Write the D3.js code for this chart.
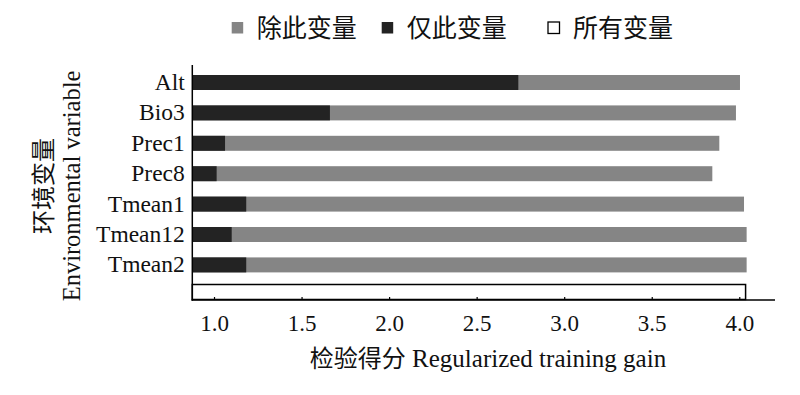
<!DOCTYPE html>
<html>
<head>
<meta charset="utf-8">
<script src="https://cdn.jsdelivr.net/npm/d3@7"></script>
<style>
  body { margin: 0; background: #fff; }
  svg { display: block; }
</style>
</head>
<body>
<svg id="chart" width="800" height="395"></svg>
<script>
// ---- data ----
const variables = ["Alt", "Bio3", "Prec1", "Prec8", "Tmean1", "Tmean12", "Tmean2"];
const withoutVar = [4.004, 3.981, 3.886, 3.846, 4.027, 4.042, 4.042]; // 除此变量
const onlyVar    = [2.738, 1.662, 1.063, 1.015, 1.184, 1.101, 1.184]; // 仅此变量
const allVars    = [4.036];                                           // 所有变量
const xTicks     = [1.0, 1.5, 2.0, 2.5, 3.0, 3.5, 4.0];
const legendLabels = ["除此变量", "仅此变量", "所有变量"];
const legendColors = ["#858585", "#232323", "#ffffff"];

const LAT = '"Liberation Serif", "Times New Roman", serif';
const CJK = '"Noto Sans CJK SC", sans-serif';

const svg = d3.select("#chart");
const plotLeft = 192.3, plotRight = 775, plotTop = 65, axisY = 300;

const x = d3.scaleLinear().domain([0.876, 4.204]).range([plotLeft, plotRight]);
const y = d3.scaleBand().domain(variables).range([67.4, 280]).paddingInner(0.507).paddingOuter(0.25);

const rows = variables.map((v, i) => ({ v, without: withoutVar[i], only: onlyVar[i] }));

// gray bars (without variable)
svg.append("g").selectAll("rect").data(rows).join("rect")
  .attr("x", x(x.domain()[0]))
  .attr("y", d => y(d.v))
  .attr("width", d => x(d.without) - x(x.domain()[0]))
  .attr("height", y.bandwidth())
  .attr("fill", legendColors[0]);

// black bars (only variable)
svg.append("g").selectAll("rect").data(rows).join("rect")
  .attr("x", x(x.domain()[0]))
  .attr("y", d => y(d.v))
  .attr("width", d => x(d.only) - x(x.domain()[0]))
  .attr("height", y.bandwidth())
  .attr("fill", legendColors[1]);

// white bar (all variables)
svg.append("g").selectAll("rect").data(allVars).join("rect")
  .attr("x", x(x.domain()[0]))
  .attr("y", axisY - 15.5)
  .attr("width", d => x(d) - x(x.domain()[0]))
  .attr("height", y.bandwidth())
  .attr("fill", "#fff")
  .attr("stroke", "#000")
  .attr("stroke-width", 1.5);

// x axis
const xAxis = d3.axisBottom(x).tickValues(xTicks).tickFormat(d3.format(".1f"))
  .tickSizeInner(-3).tickSizeOuter(0).tickPadding(14.4);
const gx = svg.append("g").attr("transform", `translate(0,${axisY})`).call(xAxis)
  .attr("font-family", LAT).attr("font-size", 23);
gx.select(".domain").remove();
gx.selectAll(".tick line").attr("stroke", "#000").attr("stroke-width", 1.2);
gx.selectAll(".tick text").attr("fill", "#111");
svg.append("line").attr("x1", plotLeft - 0.7).attr("x2", plotRight).attr("y1", axisY).attr("y2", axisY)
  .attr("stroke", "#000").attr("stroke-width", 1.5);

// y axis
const yAxis = d3.axisLeft(y).tickSize(0).tickPadding(7.5);
const gy = svg.append("g").attr("transform", `translate(${plotLeft},0)`).call(yAxis)
  .attr("font-family", LAT).attr("font-size", 23.5);
gy.select(".domain").remove();
gy.selectAll(".tick text").attr("fill", "#111");
svg.append("line").attr("x1", plotLeft).attr("x2", plotLeft).attr("y1", plotTop).attr("y2", axisY + 0.7)
  .attr("stroke", "#000").attr("stroke-width", 1.5);

// x title
const xt = svg.append("text").attr("x", 488).attr("y", 366.5).attr("text-anchor", "middle").attr("fill", "#111");
xt.append("tspan").attr("font-family", CJK).attr("font-size", 24).text("检验得分");
xt.append("tspan").attr("font-family", LAT).attr("font-size", 25).text(" Regularized training gain");

// y titles
svg.append("text").attr("font-family", CJK).attr("font-size", 24).attr("fill", "#111")
  .attr("text-anchor", "middle")
  .attr("transform", "translate(52,186) rotate(-90)")
  .text("环境变量");
svg.append("text").attr("font-family", LAT).attr("font-size", 24.5).attr("fill", "#111")
  .attr("text-anchor", "middle")
  .attr("transform", "translate(79.5,186) rotate(-90)")
  .text("Environmental variable");

// legend
const legendX = [231.7, 381.7, 548];
const lg = svg.append("g").selectAll("g").data(legendLabels).join("g")
  .attr("transform", (d, i) => `translate(${legendX[i]},22)`);
lg.append("rect").attr("width", 11.5).attr("height", 11.5)
  .attr("fill", (d, i) => legendColors[i])
  .attr("stroke", (d, i) => i === 2 ? "#000" : "none").attr("stroke-width", 1.3);
lg.append("text").attr("font-family", CJK).attr("x", 25).attr("y", 14.5)
  .attr("font-size", 25).attr("fill", "#111").text(d => d);
</script>
</body>
</html>
